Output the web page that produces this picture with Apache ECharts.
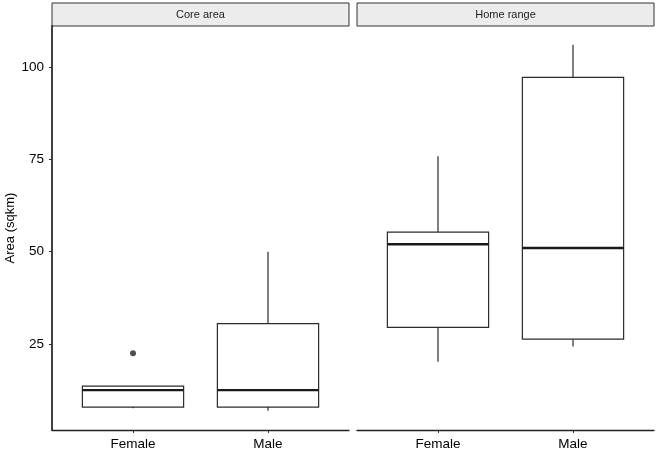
<!DOCTYPE html>
<html>
<head>
<meta charset="utf-8">
<script src="https://cdn.jsdelivr.net/npm/echarts@6/dist/echarts.min.js"></script>
<style>
  html, body { margin: 0; padding: 0; background: #fff; }
  #chart { width: 660px; height: 469px; }
</style>
</head>
<body>
<div id="chart"></div>
<script>
// data
var categories = ['Female', 'Male'];
var panels = ['Core area', 'Home range'];
var yTicks = [25, 50, 75, 100];

// [x, lower whisker, Q1, median, Q3, upper whisker]
var coreBoxes = [
    [1, 7.6, 7.9, 12.5, 13.6, 13.6],
    [2, 6.9, 7.9, 12.5, 30.5, 50.0]
];
var homeBoxes = [
    [1, 20.2, 29.5, 52.0, 55.3, 75.8],
    [2, 24.3, 26.3, 51.0, 97.2, 106.0]
];
var coreOutliers = [[1, 22.5]];
var homeOutliers = [];

var yMin = 1.7, yMax = 111.1;
var ink = '#2b2b2b';

function renderBox(params, api) {
    var x = api.value(0);
    var lo = api.coord([x, api.value(1)]);
    var q1 = api.coord([x, api.value(2)]);
    var med = api.coord([x, api.value(3)]);
    var q3 = api.coord([x, api.value(4)]);
    var hi = api.coord([x, api.value(5)]);
    var w = api.size([0.75, 0])[0];
    var left = lo[0] - w / 2;
    return {
        type: 'group',
        children: [
            { type: 'line', shape: { x1: hi[0], y1: hi[1], x2: q3[0], y2: q3[1] },
              style: { stroke: ink, lineWidth: 1.2 } },
            { type: 'line', shape: { x1: q1[0], y1: q1[1], x2: lo[0], y2: lo[1] },
              style: { stroke: ink, lineWidth: 1.2 } },
            { type: 'rect', shape: { x: left, y: q3[1], width: w, height: q1[1] - q3[1] },
              style: { fill: '#fff', stroke: ink, lineWidth: 1.2 } },
            { type: 'line', shape: { x1: left, y1: med[1], x2: left + w, y2: med[1] },
              style: { stroke: '#1a1a1a', lineWidth: 2.4 } }
        ]
    };
}

var chart = echarts.init(document.getElementById('chart'), null, { renderer: 'canvas' });

var grids = [
    { left: 52, right: 311, top: 26, bottom: 39 },
    { left: 357, right: 6, top: 26, bottom: 39 }
];

function xAxisFor(i) {
    return {
        type: 'value', gridIndex: i, min: 0.4, max: 2.6,
        splitLine: { show: false },
        axisLine: { show: true, onZero: false, lineStyle: { color: '#222', width: 1.4 } },
        axisTick: { show: true, length: 3, customValues: [1, 2], lineStyle: { color: ink } },
        axisLabel: {
            customValues: [1, 2], margin: 7,
            color: '#000', fontSize: 13.5, fontFamily: 'Liberation Sans',
            formatter: function (v) { return categories[Math.round(v) - 1]; }
        }
    };
}

function yAxisFor(i) {
    var show = i === 0;
    return {
        type: 'value', gridIndex: i, min: yMin, max: yMax,
        name: show ? 'Area (sqkm)' : '',
        nameLocation: 'middle', nameGap: 35,
        nameTextStyle: { color: '#000', fontSize: 13, fontFamily: 'Liberation Sans' },
        splitLine: { show: false },
        axisLine: { show: show, lineStyle: { color: '#111', width: 1.6 } },
        axisTick: { show: show, length: 3, customValues: yTicks, lineStyle: { color: ink } },
        axisLabel: {
            show: show, customValues: yTicks, margin: 8,
            color: '#000', fontSize: 13.5, fontFamily: 'Liberation Sans'
        }
    };
}

var strips = [];
grids.forEach(function (g, i) {
    var x0 = g.left;
    var x1 = 660 - g.right;
    strips.push({
        type: 'rect',
        shape: { x: x0, y: 3, width: x1 - x0, height: 23 },
        style: { fill: '#ececec', stroke: '#333', lineWidth: 1 }
    });
    strips.push({
        type: 'text',
        x: (x0 + x1) / 2, y: 15,
        style: {
            text: panels[i], fill: '#222', fontSize: 11, fontFamily: 'Liberation Sans',
            align: 'center', verticalAlign: 'middle'
        }
    });
});

var option = {
    backgroundColor: '#fff',
    animation: false,
    grid: grids,
    xAxis: [xAxisFor(0), xAxisFor(1)],
    yAxis: [yAxisFor(0), yAxisFor(1)],
    graphic: strips,
    series: [
        { type: 'custom', xAxisIndex: 0, yAxisIndex: 0, renderItem: renderBox, data: coreBoxes,
          encode: { x: 0, y: [1, 2, 3, 4, 5] } },
        { type: 'custom', xAxisIndex: 1, yAxisIndex: 1, renderItem: renderBox, data: homeBoxes,
          encode: { x: 0, y: [1, 2, 3, 4, 5] } },
        { type: 'scatter', xAxisIndex: 0, yAxisIndex: 0, data: coreOutliers,
          symbolSize: 6, itemStyle: { color: '#222' } },
        { type: 'scatter', xAxisIndex: 1, yAxisIndex: 1, data: homeOutliers,
          symbolSize: 6, itemStyle: { color: '#222' } }
    ]
};
chart.setOption(option);
</script>
</body>
</html>
